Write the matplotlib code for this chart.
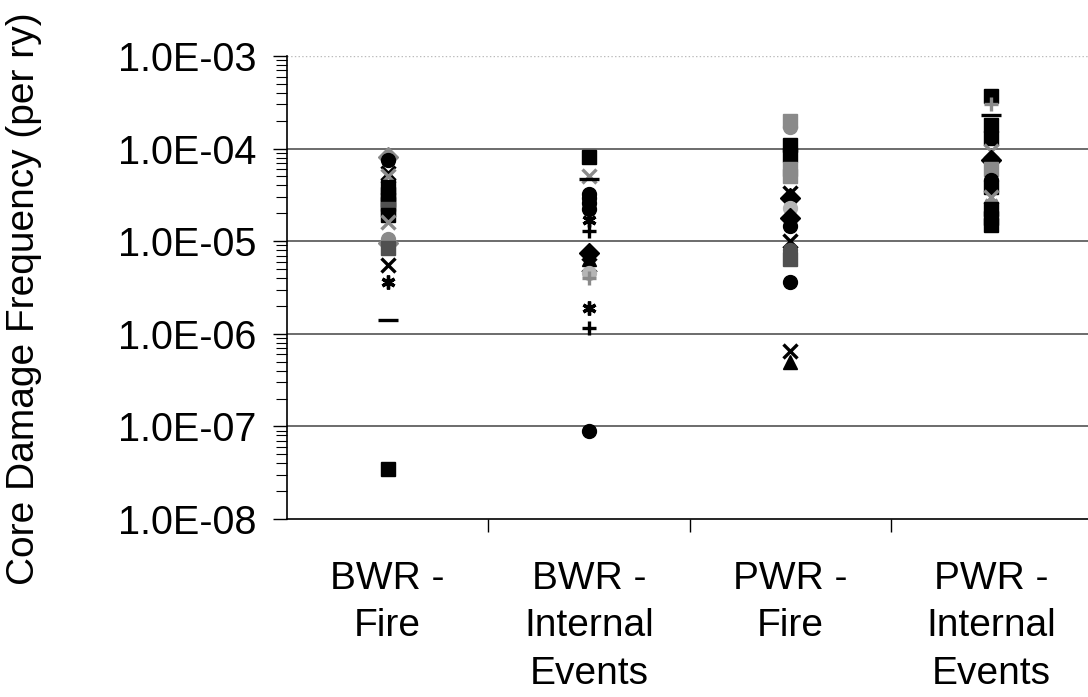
import matplotlib
matplotlib.use("Agg")
import matplotlib.pyplot as plt
import numpy as np
from matplotlib.ticker import LogLocator, NullFormatter, FixedLocator

plt.rcParams['font.family'] = ['Liberation Sans', 'DejaVu Sans']

CATEGORIES = ['BWR -\nFire', 'BWR -\nInternal\nEvents', 'PWR -\nFire', 'PWR -\nInternal\nEvents']

# core damage frequencies, per category
BWR_FIRE = [8.2e-5, 7.5e-5, 5.5e-5, 5.0e-5, 3.8e-5, 3.2e-5, 2.8e-5, 2.5e-5, 2.2e-5, 1.9e-5,
            1.6e-5, 1.05e-5, 9.5e-6, 8.5e-6, 5.5e-6, 3.6e-6, 1.4e-6, 3.5e-8]
BWR_INTERNAL = [8.1e-5, 5.0e-5, 4.7e-5, 3.2e-5, 2.9e-5, 2.6e-5, 2.2e-5, 1.7e-5, 1.3e-5,
                7.4e-6, 6.4e-6, 5.5e-6, 4.5e-6, 4.0e-6, 1.9e-6, 1.15e-6, 9.0e-8]
PWR_FIRE = [2.0e-4, 1.7e-4, 1.1e-4, 8.5e-5, 6.0e-5, 5.0e-5, 3.3e-5, 2.9e-5, 2.3e-5, 1.8e-5,
            1.45e-5, 1.0e-5, 8.0e-6, 6.5e-6, 3.6e-6, 6.5e-7, 5.0e-7]
PWR_INTERNAL = [3.7e-4, 3.0e-4, 2.3e-4, 1.8e-4, 1.3e-4, 9.5e-5, 7.5e-5, 6.0e-5, 4.6e-5,
                3.8e-5, 3.0e-5, 2.6e-5, 2.2e-5, 1.8e-5, 1.5e-5]
SERIES = [BWR_FIRE, BWR_INTERNAL, PWR_FIRE, PWR_INTERNAL]

# marker style per point (k = black, d = dark gray, g = gray, l = light gray)
STAR = (6, 2, 0)
STYLE = [
    [('D', 'g'), ('o', 'k'), ('x', 'k'), ('x', 'g'), ('s', 'k'), ('s', 'k'), ('s', 'k'), ('s', 'k'),
     ('s', 'd'), ('s', 'k'), ('x', 'g'), ('o', 'g'), ('D', 'g'), ('s', 'd'), ('x', 'k'), (STAR, 'k'),
     ('_', 'k'), ('s', 'k')],
    [('s', 'k'), ('x', 'g'), ('_', 'k'), ('o', 'k'), ('o', 'k'), ('o', 'k'), ('o', 'k'), (STAR, 'k'),
     ('+', 'k'), ('D', 'k'), ('^', 'k'), ('x', 'k'), ('o', 'l'), ('+', 'g'), (STAR, 'k'), ('+', 'k'),
     ('o', 'k')],
    [('s', 'g'), ('o', 'g'), ('s', 'k'), ('s', 'k'), ('s', 'g'), ('s', 'g'), ('x', 'k'), ('D', 'k'),
     ('o', 'l'), ('D', 'k'), ('o', 'k'), ('x', 'k'), ('o', 'd'), ('s', 'd'), ('o', 'k'), ('x', 'k'),
     ('^', 'k')],
    [('s', 'k'), ('+', 'g'), ('_', 'k'), ('s', 'k'), ('s', 'k'), ('x', 'g'), ('D', 'k'), ('s', 'g'),
     ('o', 'k'), ('s', 'k'), ('x', 'g'), (STAR, 'g'), ('s', 'k'), ('s', 'k'), ('s', 'k')],
]
SHADES = {'k': 'black', 'd': '#505050', 'g': '#8a8a8a', 'l': '#b5b5b5'}

fig = plt.figure(figsize=(10.88, 6.97), dpi=100)
ax = fig.add_axes([0.2638, 0.2554, 0.74, 0.6643])

for i, vals in enumerate(SERIES):
    for v, (m, s) in zip(vals, STYLE[i]):
        c = SHADES[s]
        thin = m in ('x', '+', '_', STAR)
        ax.plot(i + 1, v, linestyle='none', marker=m,
                markersize=14 if m == '_' else 10,
                color=c, markeredgecolor=c, markeredgewidth=2.4 if thin else 1, zorder=3)

ax.set_yscale('log')
ax.set_ylim(1e-8, 1e-3)
ax.set_xlim(0.5, 4.5)

ax.yaxis.set_minor_locator(LogLocator(base=10, subs=np.arange(2, 10), numticks=10))
ax.yaxis.set_minor_formatter(NullFormatter())
ax.set_yticks([1e-8, 1e-7, 1e-6, 1e-5, 1e-4, 1e-3])
ax.set_yticklabels(['1.0E-08', '1.0E-07', '1.0E-06', '1.0E-05', '1.0E-04', '1.0E-03'], fontsize=28.5)

ax.set_xticks([1, 2, 3, 4])
ax.set_xticklabels(CATEGORIES, fontsize=28, linespacing=1.42)
ax.xaxis.set_minor_locator(FixedLocator([1.5, 2.5, 3.5]))
ax.tick_params(axis='x', which='major', length=0, pad=30)
ax.tick_params(axis='x', which='minor', length=9, width=1, direction='out')
ax.tick_params(axis='y', which='major', length=10, width=1, direction='out', pad=12)
ax.tick_params(axis='y', which='minor', length=8, width=0.8, direction='out')

for y in [1e-7, 1e-6, 1e-5, 1e-4]:
    ax.axhline(y, color='#444444', linewidth=1.1, zorder=1)
ax.axhline(1e-3, color='#bbbbbb', linewidth=1, linestyle=':', zorder=1)

ax.spines['top'].set_visible(False)
ax.spines['right'].set_visible(False)
ax.spines['left'].set_linewidth(1.2)
ax.spines['bottom'].set_linewidth(1.2)

fig.text(0.022, 0.572, 'Core Damage Frequency (per ry)', rotation=90, fontsize=28,
         ha='center', va='center')

fig.savefig('out.png', dpi=100)
